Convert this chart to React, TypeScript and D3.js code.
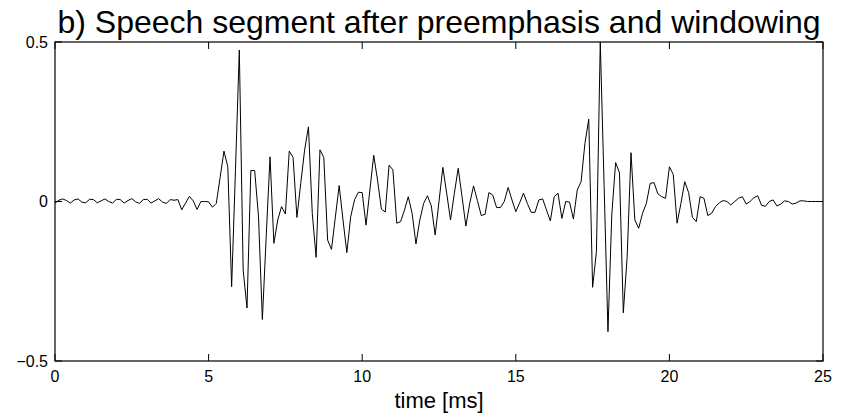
import React from "react";
import * as d3 from "d3";

const sampleStepMs = 0.125;
const signal: number[] = [
  -0.005, 0.004, 0.008, 0.003, -0.005, 0.005, 0.008, -0.002, -0.004, 0.007,
  0.006, -0.004, 0.002, 0.008, 0.0, -0.005, 0.007, 0.006, -0.005, 0.003,
  0.009, -0.001, -0.006, 0.006, 0.007, -0.005, 0.002, 0.009, -0.002, -0.006,
  0.006, 0.004, 0.006, -0.026, -0.005, 0.016, 0.002, -0.025, 0.0, 0.0,
  -0.001, -0.018, -0.006, 0.075, 0.158, 0.109, -0.267, 0.1, 0.475, -0.215,
  -0.334, 0.097, 0.097, -0.048, -0.37, -0.11, 0.14, -0.131, -0.058, -0.016,
  -0.039, 0.158, 0.138, -0.05, 0.057, 0.161, 0.234, -0.037, -0.175, 0.162,
  0.138, -0.121, -0.15, -0.05, 0.05, -0.058, -0.16, -0.048, 0.005, 0.029,
  0.028, -0.074, 0.036, 0.145, 0.067, -0.024, -0.033, 0.114, 0.099, -0.068,
  -0.063, -0.027, 0.015, -0.037, -0.133, -0.058, -0.006, 0.018, -0.014, -0.105,
  0.0, 0.107, 0.026, -0.058, 0.026, 0.104, 0.015, -0.077, -0.006, 0.049,
  0.003, -0.044, -0.04, 0.028, 0.02, -0.019, -0.019, 0.0, 0.044, 0.005,
  -0.032, -0.004, 0.026, -0.006, -0.034, -0.034, 0.005, 0.008, -0.027, -0.061,
  0.015, 0.026, -0.053, 0.0, -0.002, -0.055, 0.036, 0.062, 0.182, 0.258,
  -0.269, -0.157, 0.5, 0.05, -0.408, -0.04, 0.122, 0.09, -0.349, -0.173,
  0.153, -0.058, -0.084, -0.037, -0.006, 0.057, 0.059, 0.024, 0.015, 0.01,
  0.109, 0.085, -0.068, -0.006, 0.062, 0.028, -0.05, -0.063, 0.015, 0.01,
  -0.044, -0.037, -0.016, -0.004, 0.003, 0.0, -0.011, 0.0, 0.01, 0.015,
  -0.008, 0.0, 0.012, 0.018, -0.012, -0.015, 0.0, 0.005, -0.014, -0.008,
  0.002, 0.0, -0.008, -0.005, 0.002, 0.002, 0.0, 0.0, 0.0, 0.0,
  0.0,
];
const xTicks = [0, 5, 10, 15, 20, 25];
const yTicks = [-0.5, 0, 0.5];
const titleText = "b) Speech segment after preemphasis and windowing";
const xLabelText = "time [ms]";

const W = 843;
const H = 419;
const M = { left: 55, right: 823, top: 42, bottom: 361 };
const FONT = "'Liberation Sans', Arial, Helvetica, sans-serif";

export default function App() {
  const x = d3.scaleLinear().domain([0, 25]).range([M.left, M.right]);
  const y = d3.scaleLinear().domain([-0.5, 0.5]).range([M.bottom, M.top]);
  const line = d3
    .line<number>()
    .x((_, i) => x(i * sampleStepMs))
    .y((d) => y(d));
  const tickLen = 7;
  const fmt = (v: number) => (v < 0 ? "\u2212" + String(Math.abs(v)) : String(v));
  return (
    <svg
      width={W}
      height={H}
      style={{ position: "absolute", left: 0, top: 0, background: "#fff" }}
    >
      <rect x={0} y={0} width={W} height={H} fill="#fff" />
      <text
        x={(M.left + M.right) / 2}
        y={33}
        textAnchor="middle"
        fontFamily={FONT}
        fontSize={32}
        fill="#000"
      >
        {titleText}
      </text>
      <defs>
        <clipPath id="plotclip">
          <rect x={M.left} y={M.top - 1} width={M.right - M.left} height={M.bottom - M.top + 2} />
        </clipPath>
      </defs>
      <path
        d={line(signal) || ""}
        fill="none"
        stroke="#000"
        strokeWidth={1}
        strokeLinejoin="miter"
        clipPath="url(#plotclip)"
      />
      <rect
        x={M.left}
        y={M.top}
        width={M.right - M.left}
        height={M.bottom - M.top}
        fill="none"
        stroke="#000"
        strokeWidth={1.2}
      />
      {xTicks.map((t) => (
        <g key={"xt" + t}>
          <line x1={x(t)} x2={x(t)} y1={M.bottom} y2={M.bottom - tickLen} stroke="#000" />
          <line x1={x(t)} x2={x(t)} y1={M.top} y2={M.top + tickLen} stroke="#000" />
          <text
            x={x(t)}
            y={382}
            textAnchor="middle"
            fontFamily={FONT}
            fontSize={16}
            fill="#000"
          >
            {fmt(t)}
          </text>
        </g>
      ))}
      {yTicks.map((t) => (
        <g key={"yt" + t}>
          <line x1={M.left} x2={M.left + tickLen} y1={y(t)} y2={y(t)} stroke="#000" />
          <line x1={M.right} x2={M.right - tickLen} y1={y(t)} y2={y(t)} stroke="#000" />
          <text
            x={48}
            y={y(t) + 5.5}
            textAnchor="end"
            fontFamily={FONT}
            fontSize={16}
            fill="#000"
          >
            {fmt(t)}
          </text>
        </g>
      ))}
      <text
        x={(M.left + M.right) / 2}
        y={408}
        textAnchor="middle"
        fontFamily={FONT}
        fontSize={22}
        fill="#000"
      >
        {xLabelText}
      </text>
    </svg>
  );
}
